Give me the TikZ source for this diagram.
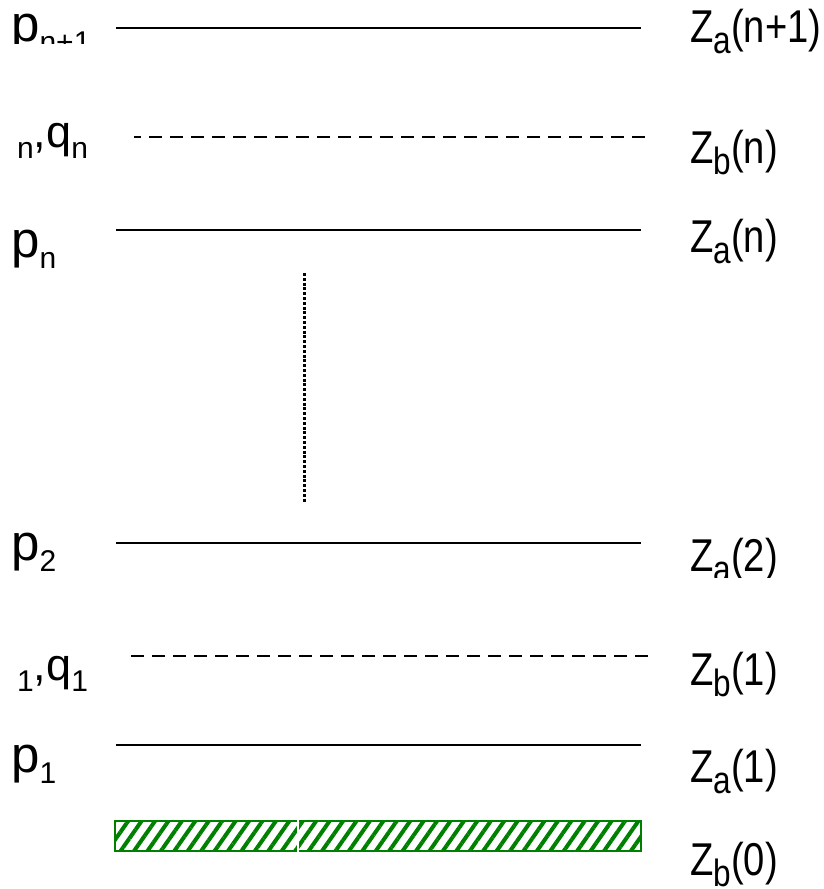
\documentclass[tikz,border=0pt]{standalone}
\usepackage{fontspec}
\usepackage{graphicx}
\setmainfont{Liberation Sans}
\usetikzlibrary{patterns.meta}
\definecolor{hatchgreen}{RGB}{0,128,0}
\newcommand{\lsub}[1]{\raisebox{-11pt}{\fontsize{30}{30}\selectfont #1}}
\newcommand{\rsub}[1]{\raisebox{-11pt}{\fontsize{38}{38}\selectfont #1}}
\newcommand{\zt}[1]{\scalebox{0.83}[1]{#1}}
\begin{document}
\begin{tikzpicture}[x=1pt,y=-1pt,
  level/.style={line width=2pt},
  dlevel/.style={line width=2.2pt, dash pattern=on 13pt off 8pt},
  dotline/.style={line width=3pt, dash pattern=on 3pt off 1.8pt},
  plab/.style={anchor=base west, inner sep=0pt, font=\fontsize{51}{51}\selectfont},
  qlab/.style={anchor=base west, inner sep=0pt, font=\fontsize{45}{45}\selectfont},
  zlab/.style={anchor=base west, inner sep=0pt, font=\fontsize{46}{46}\selectfont},
  substrate/.style={draw=hatchgreen, line width=2pt,
    pattern={Lines[angle=55, distance=11pt, line width=4pt]}, pattern color=hatchgreen}]
\useasboundingbox (0,0) rectangle (823,889);
% levels
\coordinate (a1l) at (116,28);  \coordinate (a1r) at (641,28);
\coordinate (b1l) at (134,137); \coordinate (b1r) at (645,137);
\coordinate (a2l) at (116,230); \coordinate (a2r) at (641,230);
\coordinate (a3l) at (116,543); \coordinate (a3r) at (641,543);
\coordinate (b2l) at (128,656); \coordinate (b2r) at (648,656);
\coordinate (a4l) at (116,745); \coordinate (a4r) at (641,745);
\coordinate (vt) at (304,273);  \coordinate (vb) at (304,503);
\draw[level] (a1l) -- (a1r);
\draw[dlevel] (b1r) -- (b1l);
\draw[level] (a2l) -- (a2r);
\draw[level] (a3l) -- (a3r);
\draw[dlevel] (b2r) -- (b2l);
\draw[level] (a4l) -- (a4r);
\draw[dotline] (vt) -- (vb);
% substrate
\draw[substrate] (115,821) rectangle (641,851);
\coordinate (gt) at (298,820); \coordinate (gb) at (298,852);
\draw[white, line width=2pt] (gt) -- (gb);
% left labels
\begin{scope}
\clip (0,0) rectangle (112,43);
\node[plab] (lpn1) at (11,41) {p\lsub{n+1}};
\end{scope}
\node[qlab] (lqn) at (17,147) {\lsub{n},q\lsub{n}};
\node[plab] (lpn) at (11,257) {p\lsub{n}};
\node[plab] (lp2) at (11,560) {p\lsub{2}};
\node[qlab] (lq1) at (17,680) {\lsub{1},q\lsub{1}};
\node[plab] (lp1) at (11,772) {p\lsub{1}};
% right labels
\node[zlab] (za1) at (690,42) {\zt{Z\rsub{a}(n+1)}};
\node[zlab] (zbn) at (690,163) {\zt{Z\rsub{b}(n)}};
\node[zlab] (zan) at (690,252) {\zt{Z\rsub{a}(n)}};
\begin{scope}
\clip (650,500) rectangle (823,577);
\node[zlab] (za2) at (690,571) {\zt{Z\rsub{a}(2)}};
\end{scope}
\node[zlab] (zb1) at (690,685) {\zt{Z\rsub{b}(1)}};
\node[zlab] (za11) at (690,782) {\zt{Z\rsub{a}(1)}};
\node[zlab] (zb0) at (690,875) {\zt{Z\rsub{b}(0)}};
\end{tikzpicture}
\end{document}
